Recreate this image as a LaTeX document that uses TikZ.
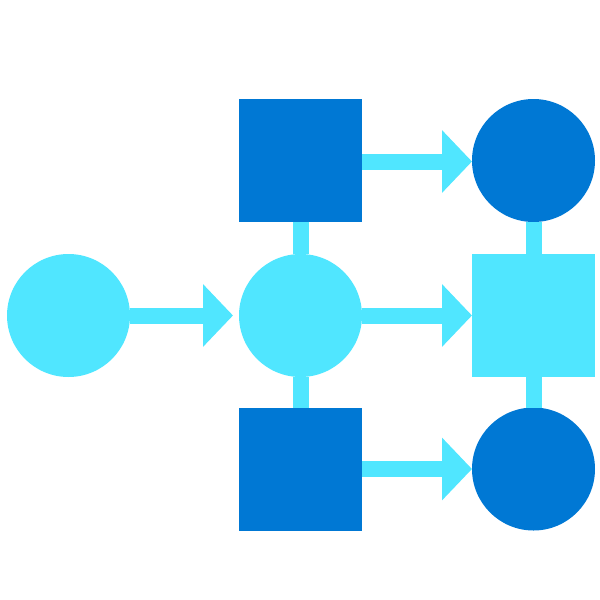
\documentclass[tikz,border=0pt]{standalone}
\usetikzlibrary{arrows.meta,calc}
\definecolor{azdark}{HTML}{0078D4}
\definecolor{azcyan}{HTML}{50E6FF}

\begin{document}
\begin{tikzpicture}[%
  x=1pt,y=-1pt,
  dot/.style={circle,fill=#1,inner sep=0,outer sep=0,minimum size=123pt},
  box/.style={rectangle,fill=#1,inner sep=0,outer sep=0,minimum size=123pt},
  flow/.style={azcyan,line width=16pt,-{Triangle[length=30pt,width=61pt]}},
  link/.style={azcyan,line width=16pt}]
    \useasboundingbox (0,0) rectangle (600,600);
    % Nodes
    \node[dot=azcyan] (src) at (68.5,315.5) {};
    \node[dot=azcyan] (hub) at (300.5,315.5) {};
    \node[box=azdark] (up) at (300.5,160) {};
    \node[box=azdark] (down) at (300.5,469) {};
    \node[dot=azdark] (outa) at (533.5,160.5) {};
    \node[box=azcyan] (outb) at (533.5,315.5) {};
    \node[dot=azdark] (outc) at (533.5,469) {};
    % Links
    \draw[link] (up.south) -- (hub.north);
    \draw[link] (hub.south) -- (down.north);
    \draw[link] (outa.south) -- (outb.north);
    \draw[link] (outb.south) -- (outc.north);
    % Arrows
    \draw[flow] (src.east) -- ($(hub.west)+(-6,0)$);
    \draw[flow] ($(up.east)+(0,1.5)$) -- ($(outa.west)+(0,1)$);
    \draw[flow] (hub.east) -- (outb.west);
    \draw[flow] (down.east) -- (outc.west);
\end{tikzpicture}
\end{document}
